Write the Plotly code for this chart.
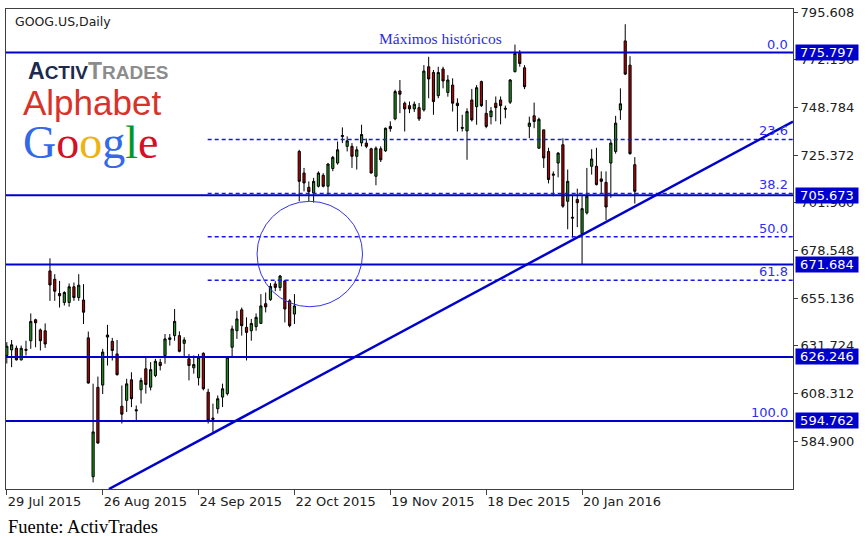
import plotly.graph_objects as go

# ---------------- data ----------------
open_ = [627.0, 629.7, 630.5, 624.8, 630.0, 634.2, 644.5, 639.5, 639.1, 668.5,
         664.4, 657.4, 653.0, 653.0, 660.7, 655.4, 654.2, 635.6, 567.4, 611.3,
         612.4, 636.0, 633.9, 627.7, 602.0, 604.9, 615.0, 600.3, 610.1, 620.4,
         611.4, 617.1, 623.6, 626.9, 634.8, 636.7, 636.7, 632.9, 625.3, 620.9,
         616.0, 628.0, 608.9, 596.2, 600.8, 606.5, 608.2, 631.0, 639.1, 649.4,
         640.8, 639.1, 641.1, 642.7, 652.4, 654.4, 662.1, 660.3, 663.6, 653.8,
         647.3, 727.2, 716.6, 709.6, 706.8, 710.1, 715.5, 710.1, 718.8, 721.5,
         734.5, 729.7, 729.7, 724.8, 731.4, 731.3, 728.5, 715.0, 728.5, 727.5,
         739.5, 743.2, 756.9, 750.9, 749.7, 748.1, 748.7, 747.6, 768.8, 766.0,
         754.6, 767.7, 756.2, 759.8, 750.9, 739.0, 737.3, 752.5, 749.2, 761.5,
         745.9, 744.3, 750.9, 752.5, 748.4, 751.4, 766.4, 775.3, 768.3, 739.5,
         744.7, 728.8, 737.8, 727.2, 715.5, 721.5, 730.5, 702.7, 694.4, 703.6,
         686.8, 697.0, 719.9, 719.9, 713.7, 712.0, 721.5, 727.2, 747.6, 781.5,
         769.6, 720.7]
high_ = [633.5, 634.6, 631.8, 631.8, 634.2, 647.6, 645.0, 640.2, 642.7, 674.7,
         666.9, 663.6, 658.5, 662.3, 662.8, 666.9, 662.0, 638.7, 613.1, 616.6,
         630.2, 642.0, 635.6, 634.6, 612.2, 615.5, 618.7, 602.4, 616.0, 626.1,
         623.7, 625.3, 625.3, 637.5, 637.5, 649.8, 638.8, 635.9, 627.7, 627.0,
         627.7, 628.5, 610.6, 603.3, 607.3, 613.1, 626.4, 641.6, 648.9, 650.5,
         645.7, 644.9, 647.6, 657.1, 657.9, 662.5, 663.5, 666.5, 663.9, 654.6,
         657.1, 728.0, 719.1, 712.5, 714.2, 717.4, 716.5, 721.5, 725.0, 732.1,
         739.0, 734.6, 731.3, 729.7, 740.3, 733.5, 729.0, 729.7, 729.7, 738.9,
         742.0, 757.5, 762.3, 751.7, 751.7, 751.7, 751.0, 769.6, 773.7, 767.2,
         768.8, 768.8, 764.7, 763.1, 753.3, 745.2, 748.4, 757.9, 759.8, 762.0,
         752.5, 749.0, 754.2, 754.2, 749.7, 762.8, 779.7, 777.0, 769.6, 744.3,
         751.2, 743.8, 737.8, 729.0, 717.4, 726.8, 733.7, 718.3, 705.3, 708.9,
         705.3, 719.1, 728.3, 729.0, 717.4, 717.4, 732.9, 744.7, 758.2, 789.7,
         774.0, 724.4]
low_ = [623.0, 621.2, 624.5, 624.5, 626.9, 630.2, 631.0, 629.4, 630.7, 653.8,
        653.8, 650.5, 651.5, 650.9, 653.8, 653.8, 642.4, 613.1, 564.6, 583.7,
        608.0, 622.0, 624.5, 617.1, 593.5, 599.2, 601.6, 594.7, 603.3, 608.2,
        609.8, 616.3, 619.6, 622.9, 631.8, 634.2, 628.5, 626.1, 614.7, 618.0,
        612.2, 609.8, 593.5, 588.9, 598.4, 601.6, 607.3, 626.1, 635.1, 636.7,
        624.5, 634.2, 639.1, 642.4, 648.1, 653.8, 658.5, 658.7, 643.2, 640.8,
        642.4, 702.7, 707.6, 702.7, 702.1, 709.5, 709.5, 706.0, 717.5, 720.7,
        731.3, 727.2, 719.1, 718.3, 729.7, 728.8, 716.3, 710.6, 722.0, 727.0,
        736.9, 742.5, 746.0, 737.0, 746.0, 746.6, 742.2, 746.8, 753.3, 745.2,
        753.3, 758.2, 754.1, 746.8, 737.0, 737.0, 723.1, 741.9, 740.3, 749.0,
        738.6, 740.5, 742.0, 740.5, 743.5, 750.5, 766.0, 768.8, 757.8, 733.7,
        738.6, 728.5, 719.1, 711.5, 705.2, 714.5, 699.5, 689.0, 684.8, 690.0,
        671.8, 696.2, 715.8, 710.5, 706.8, 693.4, 704.4, 726.1, 742.7, 764.7,
        725.6, 701.6]
close_ = [631.5, 632.2, 624.8, 630.5, 629.5, 643.7, 643.0, 634.2, 632.6, 661.6,
          658.5, 656.3, 657.9, 660.7, 655.4, 661.5, 648.2, 613.4, 589.4, 583.9,
          628.6, 637.0, 629.4, 617.5, 598.1, 613.0, 605.7, 599.8, 614.7, 612.7,
          620.0, 624.1, 622.0, 635.1, 635.6, 643.7, 629.0, 634.6, 622.0, 622.5,
          626.1, 610.6, 595.1, 595.6, 605.7, 610.6, 626.1, 640.0, 644.9, 641.6,
          638.3, 642.7, 645.7, 651.3, 650.8, 660.9, 660.4, 666.0, 649.8, 641.6,
          651.3, 712.5, 711.7, 707.4, 712.5, 716.6, 710.1, 721.0, 724.3, 728.0,
          735.0, 732.4, 724.8, 728.0, 735.5, 729.7, 716.6, 728.8, 723.1, 738.6,
          738.4, 756.6, 755.3, 748.1, 748.1, 750.4, 743.2, 766.7, 762.8, 751.7,
          766.0, 761.8, 762.3, 750.9, 749.7, 738.6, 746.8, 742.7, 758.5, 749.7,
          739.5, 747.1, 748.7, 749.7, 748.0, 762.3, 775.3, 770.4, 759.0, 741.1,
          741.9, 743.0, 724.0, 713.4, 716.0, 726.4, 700.3, 712.5, 694.8, 702.0,
          699.1, 705.2, 723.5, 710.9, 712.5, 699.9, 731.3, 741.1, 750.6, 765.2,
          726.1, 707.6]

tick_bars = [0, 20, 40, 60, 80, 100, 120]
tick_labels = ["29 Jul 2015", "26 Aug 2015", "24 Sep 2015", "22 Oct 2015",
               "19 Nov 2015", "18 Dec 2015", "20 Jan 2016"]

price_ticks = [795.608, 772.196, 748.784, 725.372, 701.960,
               678.548, 655.136, 631.724, 608.312, 584.900]
levels = [775.797, 705.673, 671.684, 626.246, 594.762]
fib_high, fib_low = 775.797, 594.762
fib_ratios = [0.0, 23.6, 38.2, 50.0, 61.8, 100.0]
fib_start_bar = 41.9
trend_pts = [(21.3, 561.35), (164.0, 741.89)]
circle_box = [52.2, 650.9, 74.2, 702.7]

x_range = [-0.17, 164.0]
y_range = [561.35, 797.18]

BLUE = "#0000CD"
LBLUE = "#2F2FF0"

idx = list(range(len(open_)))

fig = go.Figure(go.Candlestick(
    x=idx, open=open_, high=high_, low=low_, close=close_,
    increasing=dict(line=dict(color="black", width=1), fillcolor="#1E961E"),
    decreasing=dict(line=dict(color="black", width=1), fillcolor="#B80000"),
    whiskerwidth=0, hoverinfo="skip"))

shapes = []
for lv in levels:
    shapes.append(dict(type="line", xref="paper", yref="y", x0=0, x1=1, y0=lv, y1=lv,
                       line=dict(color=BLUE, width=2)))
for r in fib_ratios[1:-1]:
    lv = fib_high - (fib_high - fib_low) * r / 100.0
    shapes.append(dict(type="line", xref="x", yref="y", x0=fib_start_bar, x1=x_range[1],
                       y0=lv, y1=lv, line=dict(color="#1515F0", width=1.3, dash="4px,3px")))
shapes.append(dict(type="line", xref="x", yref="y",
                   x0=trend_pts[0][0], y0=trend_pts[0][1], x1=trend_pts[1][0], y1=trend_pts[1][1],
                   line=dict(color=BLUE, width=2.5)))
shapes.append(dict(type="circle", xref="x", yref="y",
                   x0=circle_box[0], y0=circle_box[1], x1=circle_box[2], y1=circle_box[3],
                   line=dict(color="#3434E6", width=1)))

ann = []
for lv in levels:
    ann.append(dict(xref="paper", yref="y", x=1, y=lv, xanchor="left", yanchor="middle",
                    xshift=2, text="%.3f" % lv, showarrow=False, bgcolor=BLUE, borderpad=0,
                    width=62, font=dict(color="white", size=13, family="DejaVu Sans")))
for r in fib_ratios:
    lv = fib_high - (fib_high - fib_low) * r / 100.0
    ann.append(dict(xref="paper", yref="y", x=1, y=lv, xanchor="right", yanchor="bottom",
                    xshift=-3, yshift=-1, text="%.1f" % r, showarrow=False,
                    font=dict(color=LBLUE, size=13, family="DejaVu Sans")))

ann.append(dict(xref="paper", yref="paper", x=0.0089, y=0.975, xanchor="left", yanchor="middle",
                text="GOOG.US,Daily", showarrow=False,
                font=dict(color="#202020", size=12.5, family="DejaVu Sans")))
ann.append(dict(xref="paper", yref="paper", x=0.552, y=0.938, xanchor="center", yanchor="middle",
                text="Máximos históricos", showarrow=False,
                font=dict(color="#2B2BE8", size=15.5, family="Liberation Serif")))
ann.append(dict(xref="paper", yref="paper", x=0.026, y=0.871, xanchor="left", yanchor="middle",
                text="<b><span style='color:#1B2A4E'>A</span>"
                     "<span style='color:#1B2A4E;font-size:19px'>CTIV</span>"
                     "<span style='color:#8C8C8C'>T</span>"
                     "<span style='color:#8C8C8C;font-size:19px'>RADES</span></b>",
                showarrow=False, font=dict(size=23, family="Liberation Sans")))
ann.append(dict(xref="paper", yref="paper", x=0.019, y=0.805, xanchor="left", yanchor="middle",
                text="Alphabet", showarrow=False,
                font=dict(color="#D8322A", size=35, family="Liberation Sans")))
ann.append(dict(xref="paper", yref="paper", x=0.019, y=0.722, xanchor="left", yanchor="middle",
                text="<span style='color:#3369E8'>G</span><span style='color:#D50F25'>o</span>"
                     "<span style='color:#EEB211'>o</span><span style='color:#3369E8'>g</span>"
                     "<span style='color:#009925'>l</span><span style='color:#D50F25'>e</span>",
                showarrow=False, font=dict(size=46, family="Liberation Serif")))
ann.append(dict(xref="paper", yref="paper", x=0, y=-0.079, xanchor="left", yanchor="middle",
                text="Fuente: ActivTrades", showarrow=False,
                font=dict(color="black", size=18.5, family="Liberation Serif")))

fig.update_layout(
    width=868, height=540,
    margin=dict(l=5, r=75, t=7, b=51),
    paper_bgcolor="white", plot_bgcolor="white",
    showlegend=False, boxgap=0.35,
    font=dict(family="DejaVu Sans", size=13, color="#202020"),
    shapes=shapes, annotations=ann,
    xaxis=dict(range=x_range, tickvals=tick_bars, ticktext=tick_labels,
               ticks="outside", ticklen=5, tickcolor="#404040",
               ticklabelposition="outside right",
               showline=True, mirror=True, linecolor="#404040", linewidth=1,
               showgrid=False, zeroline=False, rangeslider=dict(visible=False),
               tickfont=dict(size=13, color="#202020")),
    yaxis=dict(range=y_range, side="right", tickvals=price_ticks,
               ticktext=["%.3f" % v for v in price_ticks],
               ticks="outside", ticklen=4, tickcolor="#404040",
               showline=True, mirror=True, linecolor="#404040", linewidth=1,
               showgrid=False, zeroline=False,
               tickfont=dict(size=13, color="#202020")),
)

fig.write_html("out.html", config={"displayModeBar": False, "staticPlot": True},
               post_script="document.body.style.margin='0';document.body.style.overflow='hidden';")
